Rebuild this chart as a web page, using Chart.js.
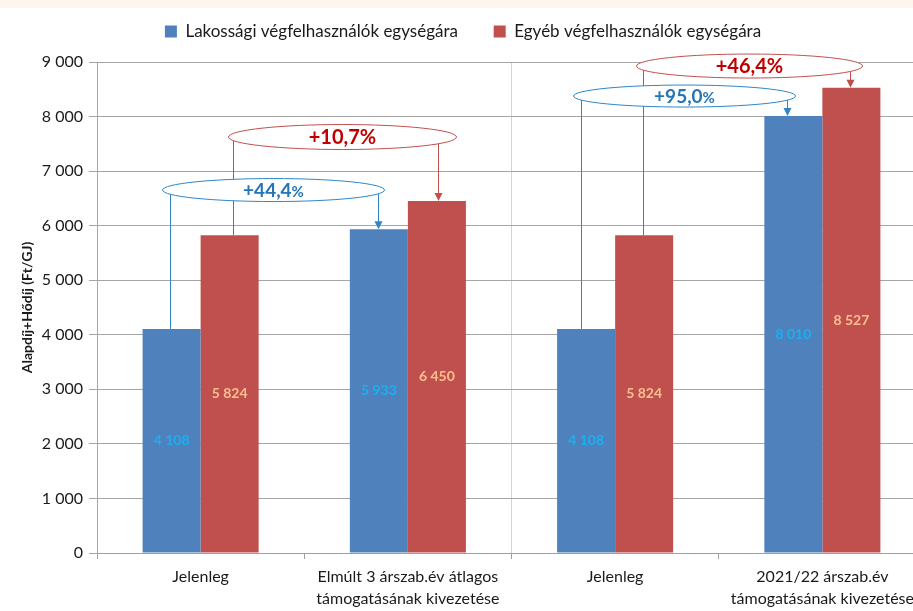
<!DOCTYPE html>
<html>
<head>
<meta charset="utf-8">
<script src="https://cdn.jsdelivr.net/npm/chart.js@4.4.1/dist/chart.umd.min.js"></script>
<style>
  html, body { margin: 0; padding: 0; background: #fff; overflow: hidden; }
  #wrap { position: absolute; left: 0; top: 0; width: 926px; height: 611px; }
  #band { position: absolute; left: 0; top: 0; width: 913px; height: 8px; background: #fdf6ec; }
</style>
</head>
<body>
<div id="wrap"><canvas id="myChart"></canvas></div>
<div id="band"></div>
<script>
// categories and series
var categories = [
  ['Jelenleg'],
  ['Elmúlt 3 árszab.év átlagos', 'támogatásának kivezetése'],
  ['Jelenleg'],
  ['2021/22 árszab.év', 'támogatásának kivezetése']
];
var seriesNames = ['Lakossági végfelhasználók egységára', 'Egyéb végfelhasználók egységára'];
var lakossagi = [4108, 5933, 4108, 8010];
var egyeb = [5824, 6450, 5824, 8527];
var changeLabels = ['+44,4%', '+10,7%', '+95,0%', '+46,4%'];
var yTitle = 'Alapdíj+Hődíj (Ft/GJ)';

var FONT = 'Lato, "Open Sans", sans-serif';

function fmt(v) {
  return String(v).replace(/\B(?=(\d{3})+(?!\d))/g, ' ');
}

////////////////////////////
// value labels in the middle of each bar
////////////////////////////
var valueLabels = {
  id: 'valueLabels',
  afterDatasetsDraw: function (chart, args, opts) {
    var ctx = chart.ctx;
    ctx.save();
    ctx.font = 'bold 14px ' + FONT;
    ctx.textAlign = 'center';
    ctx.textBaseline = 'middle';
    chart.data.datasets.forEach(function (ds, i) {
      ctx.fillStyle = opts.colors[i];
      chart.getDatasetMeta(i).data.forEach(function (bar, j) {
        ctx.fillText(fmt(ds.data[j]), bar.x, (bar.y + bar.base) / 2);
      });
    });
    ctx.restore();
  }
};

////////////////////////////
// ellipse callouts with arrows between bars
////////////////////////////
var callouts = {
  id: 'callouts',
  afterDatasetsDraw: function (chart, args, opts) {
    var ctx = chart.ctx, ys = chart.scales.y;
    opts.items.forEach(function (a) {
      var meta = chart.getDatasetMeta(a.ds);
      var src = meta.data[a.from], dst = meta.data[a.to];
      var ey = ys.getPixelForValue(a.at);
      var x1 = Math.round(src.x + a.dx1) + 0.5, x2 = Math.round(dst.x + a.dx2) + 0.5;
      var left = x1 - a.padL, right = x2 + a.padR;
      ctx.save();
      ctx.strokeStyle = a.line;
      ctx.lineWidth = 1;
      ctx.beginPath();
      ctx.moveTo(x1, src.y);
      ctx.lineTo(x1, ey);
      ctx.moveTo(x2, ey);
      ctx.lineTo(x2, dst.y - 7);
      ctx.stroke();
      ctx.fillStyle = a.line;
      ctx.beginPath();
      ctx.moveTo(x2 - 4, dst.y - 8);
      ctx.lineTo(x2 + 4, dst.y - 8);
      ctx.lineTo(x2, dst.y);
      ctx.closePath();
      ctx.fill();
      ctx.beginPath();
      ctx.ellipse((left + right) / 2, ey, (right - left) / 2, a.h / 2, 0, 0, Math.PI * 2);
      ctx.fillStyle = '#fff';
      ctx.fill();
      ctx.stroke();
      // text, with the % sign possibly smaller
      var txt = changeLabels[a.label];
      var num = txt.replace('%', '');
      ctx.fillStyle = a.text;
      ctx.textBaseline = 'middle';
      ctx.font = 'bold ' + a.size + 'px ' + FONT;
      var w1 = ctx.measureText(num).width;
      ctx.font = 'bold ' + a.pct + 'px ' + FONT;
      var w2 = ctx.measureText('%').width;
      var sx = (left + right) / 2 - (w1 + w2) / 2;
      ctx.textAlign = 'left';
      ctx.font = 'bold ' + a.size + 'px ' + FONT;
      ctx.fillText(num, sx, ey + 1);
      ctx.font = 'bold ' + a.pct + 'px ' + FONT;
      ctx.fillText('%', sx + w1, ey + 1 + (a.size - a.pct) * 0.3);
      ctx.restore();
    });
  }
};

// fixed legend height so the plot starts where the original does
var legendHeight = {
  id: 'legendHeight',
  beforeInit: function (chart) {
    var origFit = chart.legend.fit;
    chart.legend.fit = function () {
      origFit.bind(chart.legend)();
      this.height = 62;
    };
  }
};

var ctx = document.getElementById('myChart').getContext('2d');

var myChart = new Chart(ctx, {
  type: 'bar',
  data: {
    labels: categories,
    datasets: [
      { label: seriesNames[0], data: lakossagi, backgroundColor: '#4f81bd' },
      { label: seriesNames[1], data: egyeb, backgroundColor: '#c0504d' }
    ]
  },
  options: {
    responsive: true,
    maintainAspectRatio: false,
    animation: false,
    layout: { padding: 0 },
    datasets: { bar: { categoryPercentage: 0.56, barPercentage: 1.0 } },
    scales: {
      x: {
        grid: {
          offset: true,
          color: function (c) { return c.index === 2 ? '#d4d4d4' : 'rgba(0,0,0,0)'; },
          tickColor: '#a0a0a0',
          tickLength: 6,
          drawOnChartArea: true
        },
        border: { color: '#a0a0a0' },
        ticks: {
          color: '#1a1a1a',
          padding: 7,
          maxRotation: 0,
          font: { family: FONT, size: 16, lineHeight: 1.375 }
        },
        afterFit: function (scale) { scale.height = 58; }
      },
      y: {
        min: 0,
        max: 9000,
        ticks: {
          stepSize: 1000,
          color: '#1a1a1a',
          padding: 6,
          font: { family: FONT, size: 16 },
          callback: function (v) { return fmt(v); }
        },
        grid: { color: '#a6a6a6', tickColor: '#a6a6a6', tickLength: 8 },
        border: { color: '#a6a6a6' },
        title: {
          display: true,
          text: yTitle,
          color: '#1a1a1a',
          padding: { top: 19, bottom: 0 },
          font: { family: FONT, size: 14, weight: 'bold' }
        },
        afterFit: function (scale) { scale.width = 97; }
      }
    },
    plugins: {
      legend: {
        position: 'top',
        labels: {
          boxWidth: 12,
          boxHeight: 12,
          padding: 23,
          color: '#1a1a1a',
          font: { family: FONT, size: 17 },
          generateLabels: function (chart) {
            var items = Chart.defaults.plugins.legend.labels.generateLabels(chart);
            items[0].text = items[0].text + '\u2003';
            return items;
          }
        }
      },
      tooltip: { enabled: false },
      valueLabels: { colors: ['#1ab0f0', '#fac090'] },
      callouts: {
        items: [
          { ds: 1, from: 0, to: 1, label: 1, at: 7625, h: 25, dx1: 3, dx2: 1, padL: 5, padR: 18, line: '#c0504d', text: '#c00000', size: 20, pct: 20 },
          { ds: 0, from: 0, to: 1, label: 0, at: 6653, h: 23, dx1: -2, dx2: -1, padL: 8, padR: 6, line: '#2e86c8', text: '#2474b8', size: 19, pct: 15 },
          { ds: 1, from: 2, to: 3, label: 3, at: 8926, h: 24, dx1: -1, dx2: -1, padL: 7, padR: 12, line: '#c0504d', text: '#c00000', size: 20, pct: 20 },
          { ds: 0, from: 2, to: 3, label: 2, at: 8376, h: 22, dx1: -5, dx2: -6, padL: 8, padR: 8, line: '#2e86c8', text: '#2474b8', size: 19, pct: 15 }
        ]
      }
    }
  },
  plugins: [legendHeight, valueLabels, callouts]
});
</script>
</body>
</html>
